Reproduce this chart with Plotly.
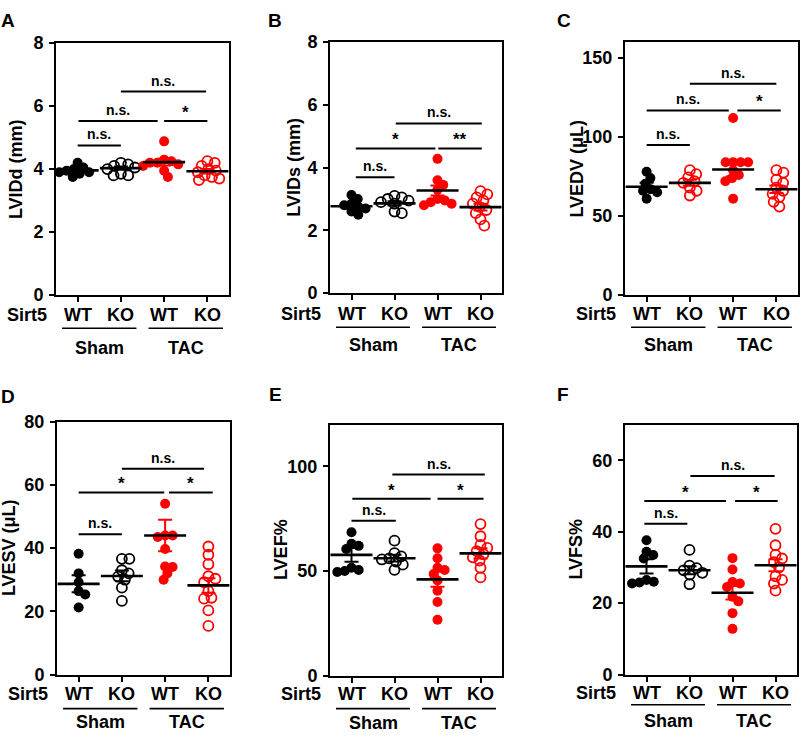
import math
import plotly.graph_objects as go

W, H = 800, 742
FONT = "Arial, Liberation Sans, sans-serif"
RED = "#FF0000"
BLACK = "#000000"

# ---------------- data ----------------
group_labels = ["WT", "KO", "WT", "KO"]
surgery_labels = ["Sham", "TAC"]
genotype_label = "Sirt5"

# A: LVIDd (mm)  groups: WT-Sham, KO-Sham, WT-TAC, KO-TAC
lvidd_wt_sham = [4.2, 4.05, 4.0, 3.95, 3.9, 3.9, 3.85, 3.75]
lvidd_ko_sham = [4.2, 4.15, 4.1, 4.05, 4.0, 3.85, 3.8, 3.8]
lvidd_wt_tac = [4.88, 4.3, 4.25, 4.2, 4.2, 4.15, 4.1, 3.95, 3.75]
lvidd_ko_tac = [4.25, 4.2, 4.1, 4.0, 3.95, 3.9, 3.8, 3.75, 3.7, 3.65]
lvidd_mean = [3.96, 4.03, 4.22, 3.93]
lvidd_sem = [0.05, 0.05, 0.11, 0.07]

# B: LVIDs (mm)
lvids_wt_sham = [3.13, 3.0, 2.85, 2.8, 2.75, 2.7, 2.6, 2.5]
lvids_ko_sham = [3.1, 3.05, 3.0, 2.95, 2.9, 2.85, 2.6, 2.55]
lvids_wt_tac = [4.28, 3.6, 3.45, 3.3, 3.0, 2.95, 2.9, 2.85, 2.8]
lvids_ko_tac = [3.25, 3.15, 3.05, 2.95, 2.85, 2.75, 2.65, 2.55, 2.35, 2.15]
lvids_mean = [2.77, 2.86, 3.27, 2.74]
lvids_sem = [0.08, 0.07, 0.16, 0.11]

# C: LVEDV (uL)
lvedv_wt_sham = [78, 74, 70.5, 67, 66, 65, 61]
lvedv_ko_sham = [79, 76.5, 74.5, 72, 71, 68, 66, 63]
lvedv_wt_tac = [112, 84, 84, 84, 84, 79, 76, 74, 72, 61]
lvedv_ko_tac = [79, 77.5, 73, 71, 68, 66, 64, 62, 59, 56]
lvedv_mean = [68.5, 71.0, 79.4, 66.9]
lvedv_sem = [2.6, 1.9, 4.3, 2.4]

# D: LVESV (uL)
lvesv_wt_sham = [38.2, 32, 29.2, 26.4, 25.3, 21.2]
lvesv_ko_sham = [36.6, 36.6, 33, 32, 31, 30, 27.5, 23.3]
lvesv_wt_tac = [54, 44, 44, 43.5, 39.7, 34.2, 34, 32, 30]
lvesv_ko_tac = [40.5, 37.9, 34.9, 31.1, 30.3, 29.2, 26.4, 24.3, 24, 20.3, 15.4]
lvesv_mean = [28.7, 31.2, 44.0, 28.2]
lvesv_sem = [2.7, 1.7, 5.0, 2.3]

# E: LVEF%
lvef_wt_sham = [68.5, 63, 62, 60.5, 51.5, 50.5, 50, 49.5]
lvef_ko_sham = [64.5, 58.5, 57, 56, 55.5, 54.5, 53, 50.5]
lvef_wt_tac = [60.8, 56.1, 51.5, 50.5, 48.5, 45.5, 40.6, 35.2, 26.7]
lvef_ko_tac = [72.4, 66.6, 62.5, 61, 59.5, 58, 56.5, 55, 51.5, 46.9]
lvef_mean = [57.7, 56.1, 46.0, 58.4]
lvef_sem = [3.3, 1.6, 3.6, 2.4]

# F: LVFS%
lvfs_wt_sham = [37.6, 34.4, 33.5, 32.5, 26.5, 26, 25.8, 25.5]
lvfs_ko_sham = [34.9, 30.5, 29.8, 29.2, 28.5, 28, 25.3]
lvfs_wt_tac = [32.6, 29.4, 25.9, 25.5, 24.5, 21.8, 20.5, 17.2, 12.8]
lvfs_ko_tac = [40.8, 36.2, 33.5, 32.5, 31.5, 30, 27.5, 26.5, 25.5, 23.5]
lvfs_mean = [30.3, 29.2, 22.9, 30.6]
lvfs_sem = [2.0, 1.1, 1.9, 1.7]

# significance comparisons: (from group, to group, label, level)
lvidd_sig = [(1, 2, "n.s.", 4.75), (1.02, 2.85, "n.s.", 5.53), (3.0, 4.0, "*", 5.53), (2.0, 3.97, "n.s.", 6.46)]
lvids_sig = [(1.1, 2.0, "n.s.", 3.69), (1.1, 2.95, "*", 4.61), (3.02, 4.03, "**", 4.61), (2.03, 4.03, "n.s.", 5.41)]
lvedv_sig = [(1, 2, "n.s.", 94.9), (1, 2.9, "n.s.", 116.8), (3.1, 4.1, "*", 116.8), (2, 4, "n.s.", 133.6)]
lvesv_sig = [(1, 2, "n.s.", 44.4), (1, 2.98, "*", 57.6), (3.09, 4.1, "*", 57.6), (2, 3.9, "n.s.", 65.1)]
lvef_sig = [(1, 2.03, "n.s.", 74), (1.02, 2.84, "*", 84.5), (3.0, 4.07, "*", 84.5), (1.95, 4.1, "n.s.", 96.1)]
lvfs_sig = [(0.95, 1.95, "n.s.", 42.2), (0.95, 2.85, "*", 48.6), (3.06, 4.05, "*", 48.6), (2.02, 3.98, "n.s.", 55.6)]

# ---------------- panel styling ----------------
panels = [
    dict(letter="A", title="LVIDd (mm)", groups=[lvidd_wt_sham, lvidd_ko_sham, lvidd_wt_tac, lvidd_ko_tac],
         mean=lvidd_mean, sem=lvidd_sem, sig=lvidd_sig, ymax=8, yticks=[0, 2, 4, 6, 8],
         box=(56, 34, 229, 293), title_dx=40, letter_xy=(8, 11), lab_dy=(20, 34, 54), ko_sham_color=BLACK),
    dict(letter="B", title="LVIDs (mm)", groups=[lvids_wt_sham, lvids_ko_sham, lvids_wt_tac, lvids_ko_tac],
         mean=lvids_mean, sem=lvids_sem, sig=lvids_sig, ymax=8, yticks=[0, 2, 4, 6, 8],
         box=(330, 33, 502, 291), title_dx=36, letter_xy=(275, 11), lab_dy=(21, 35, 53), ko_sham_color=BLACK),
    dict(letter="C", title="LVEDV (μL)", groups=[lvedv_wt_sham, lvedv_ko_sham, lvedv_wt_tac, lvedv_ko_tac],
         mean=lvedv_mean, sem=lvedv_sem, sig=lvedv_sig, ymax=160, yticks=[0, 50, 100, 150],
         box=(625, 33, 798, 293), title_dx=48, letter_xy=(564, 11), lab_dy=(19, 33, 51), ko_sham_color=RED),
    dict(letter="D", title="LVESV (μL)", groups=[lvesv_wt_sham, lvesv_ko_sham, lvesv_wt_tac, lvesv_ko_tac],
         mean=lvesv_mean, sem=lvesv_sem, sig=lvesv_sig, ymax=80, yticks=[0, 20, 40, 60, 80],
         box=(57, 423, 230, 683), title_dx=48, letter_xy=(8, 397), lab_dy=(20, 35, 49), ko_sham_color=BLACK),
    dict(letter="E", title="LVEF%", groups=[lvef_wt_sham, lvef_ko_sham, lvef_wt_tac, lvef_ko_tac],
         mean=lvef_mean, sem=lvef_sem, sig=lvef_sig, ymax=120, yticks=[0, 50, 100],
         box=(330, 426, 502, 684), title_dx=49, letter_xy=(275, 395), lab_dy=(19, 34, 49), ko_sham_color=BLACK),
    dict(letter="F", title="LVFS%", groups=[lvfs_wt_sham, lvfs_ko_sham, lvfs_wt_tac, lvfs_ko_tac],
         mean=lvfs_mean, sem=lvfs_sem, sig=lvfs_sig, ymax=70, yticks=[0, 20, 40, 60],
         box=(625, 426, 797, 683), title_dx=49, letter_xy=(563, 395), lab_dy=(19, 31, 48), ko_sham_color=BLACK),
]


def px(x):
    return x / W


def py(y):
    return 1 - y / H


def swarm(vals, ppy, ppx, d=7.5):
    """Simple beeswarm: horizontal offsets (in x data units) to avoid overlaps."""
    placed = []
    offs = [0.0] * len(vals)
    order = sorted(range(len(vals)), key=lambda i: -vals[i])
    for i in order:
        y = vals[i] * ppy
        cands = [0.0]
        for xj, yj in placed:
            dy = abs(y - yj)
            if dy < d:
                dx = math.sqrt(d * d - dy * dy)
                cands += [xj + dx, xj - dx]
        cands.sort(key=lambda c: (round(abs(c), 3), -c))
        chosen = 0.0
        for c in cands:
            if all((c - xj) ** 2 + (y - yj) ** 2 >= d * d - 1e-6 for xj, yj in placed):
                chosen = c
                break
        placed.append((chosen, y))
        offs[i] = chosen / ppx
    return offs


fig = go.Figure()
layout = dict(width=W, height=H, margin=dict(l=0, r=0, t=0, b=0), showlegend=False,
              plot_bgcolor="white", paper_bgcolor="white",
              font=dict(family=FONT, color=BLACK))
shapes = []
annotations = []

for k, p in enumerate(panels):
    n = "" if k == 0 else str(k + 1)
    xa, ya = "x" + n, "y" + n
    x0, y0, x1, y1 = p["box"]
    ppx = (x1 - x0) / 4.0
    ppy = (y1 - y0) / p["ymax"]
    colors = [BLACK, p["ko_sham_color"], RED, RED]
    filled = [True, False, True, False]

    layout["xaxis" + n] = dict(domain=[px(x0), px(x1)], range=[0.5, 4.5], anchor=ya,
                               showline=True, linewidth=2, linecolor=BLACK, mirror=True,
                               ticks="outside", ticklen=5, tickwidth=2, tickcolor=BLACK,
                               tickvals=[1, 2, 3, 4], showticklabels=False,
                               showgrid=False, zeroline=False, fixedrange=True)
    layout["yaxis" + n] = dict(domain=[py(y1), py(y0)], range=[0, p["ymax"]], anchor=xa,
                               showline=True, linewidth=2, linecolor=BLACK, mirror=True,
                               ticks="outside", ticklen=5, tickwidth=2, tickcolor=BLACK,
                               tickvals=p["yticks"], ticklabelstandoff=2,
                               tickfont=dict(family=FONT, size=18, color=BLACK, weight="bold"),
                               showgrid=False, zeroline=False, fixedrange=True)

    # scatter points
    for g, vals in enumerate(p["groups"]):
        offs = swarm(vals, ppy, ppx)
        fig.add_trace(go.Scatter(
            x=[g + 1 + o for o in offs], y=vals, xaxis=xa, yaxis=ya, mode="markers",
            marker=dict(symbol="circle" if filled[g] else "circle-open", size=10,
                        color=colors[g], line=dict(width=0 if filled[g] else 1.8, color=colors[g])),
            hoverinfo="y"))
    # mean +/- SEM
    for g in range(4):
        fig.add_trace(go.Scatter(
            x=[g + 1], y=[p["mean"][g]], xaxis=xa, yaxis=ya, mode="markers",
            marker=dict(symbol="line-ew", size=30, color=BLACK, line=dict(width=2.6, color=BLACK)),
            error_y=dict(type="data", array=[p["sem"][g]], color=colors[g], thickness=2, width=7),
            hoverinfo="y"))

    # significance bars
    for a, b, lab, lev in p["sig"]:
        shapes.append(dict(type="line", xref=xa, yref=ya, x0=a, x1=b, y0=lev, y1=lev,
                           line=dict(color=BLACK, width=2)))
        star = "*" in lab
        annotations.append(dict(xref=xa, yref=ya, x=(a + b) / 2, y=lev, text=lab, showarrow=False,
                                yanchor="bottom", yshift=(-3 if star else 1),
                                font=dict(family=FONT, size=(17 if star else 14), color=BLACK, weight="bold")))

    # bottom labels
    d_wt, d_line, d_sur = p["lab_dy"]
    for g, lab in enumerate(group_labels):
        annotations.append(dict(xref=xa, yref="paper", x=g + 1, y=py(y1 + d_wt), text=lab, showarrow=False,
                                xanchor="center", yanchor="middle",
                                font=dict(family=FONT, size=18, color=BLACK, weight="bold")))
    annotations.append(dict(xref="paper", yref="paper", x=px(x0 - 29), y=py(y1 + d_wt), text=genotype_label,
                            showarrow=False, xanchor="center", yanchor="middle",
                            font=dict(family=FONT, size=18, color=BLACK, weight="bold")))
    for s, lab in enumerate(surgery_labels):
        ga, gb = 2 * s + 1, 2 * s + 2
        shapes.append(dict(type="line", xref=xa, yref="paper", x0=ga - 0.36, x1=gb + 0.36,
                           y0=py(y1 + d_line), y1=py(y1 + d_line), line=dict(color=BLACK, width=1.6)))
        annotations.append(dict(xref=xa, yref="paper", x=(ga + gb) / 2, y=py(y1 + d_sur), text=lab,
                                showarrow=False, xanchor="center", yanchor="middle",
                                font=dict(family=FONT, size=18, color=BLACK, weight="bold")))

    # y title
    annotations.append(dict(xref="paper", yref="paper", x=px(x0 - p["title_dx"]), y=py((y0 + y1) / 2),
                            text=p["title"], textangle=-90, showarrow=False, xanchor="center", yanchor="middle",
                            font=dict(family=FONT, size=18, color=BLACK, weight="bold")))
    # panel letter
    lx, ly = p["letter_xy"]
    annotations.append(dict(xref="paper", yref="paper", x=px(lx), y=py(ly), text=p["letter"], showarrow=False,
                            xanchor="center", yanchor="middle",
                            font=dict(family=FONT, size=19, color=BLACK, weight="bold")))

layout["shapes"] = shapes
layout["annotations"] = annotations
fig.update_layout(**layout)
# remove the default page margin so the 800x742 figure fills the window exactly
fig.write_html("out.html", config={"displayModeBar": False},
               post_script="document.body.style.margin='0px';document.body.style.overflow='hidden';")
